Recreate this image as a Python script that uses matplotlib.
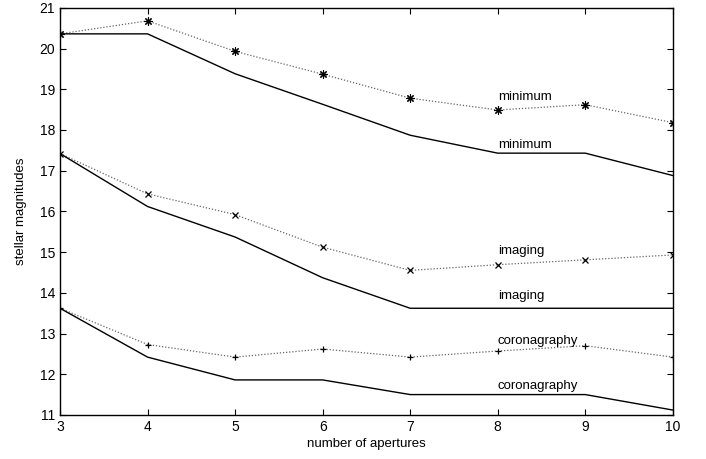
import matplotlib
matplotlib.use("Agg")
import matplotlib.pyplot as plt

plt.rcParams['font.family'] = ['Liberation Sans', 'DejaVu Sans']

apertures = [3, 4, 5, 6, 7, 8, 9, 10]

# dotted curves (with markers)
min_dot = [20.36, 20.68, 19.93, 19.37, 18.78, 18.49, 18.62, 18.18]
img_dot = [17.42, 16.43, 15.92, 15.12, 14.55, 14.69, 14.81, 14.93]
cor_dot = [13.62, 12.73, 12.42, 12.62, 12.42, 12.57, 12.70, 12.42]

# solid curves
min_sol = [20.36, 20.36, 19.38, 18.63, 17.87, 17.43, 17.43, 16.88]
img_sol = [17.42, 16.12, 15.37, 14.37, 13.62, 13.62, 13.62, 13.62]
cor_sol = [13.62, 12.42, 11.86, 11.86, 11.50, 11.50, 11.50, 11.12]

# curve labels: (text, x, y)
labels = [("minimum", 8.0, 18.82), ("minimum", 8.0, 17.62),
          ("imaging", 8.0, 15.02), ("imaging", 8.0, 13.92),
          ("coronagraphy", 8.0, 12.82), ("coronagraphy", 8.0, 11.72)]

fig = plt.figure(figsize=(7.06, 4.59), dpi=100)
ax = fig.add_axes([0.085, 0.096, 0.868, 0.887])

dot_style = dict(color='#666666', linestyle=(0, (1, 1.5)), linewidth=0.9,
                 markeredgecolor='black', markerfacecolor='black')
ax.plot(apertures, min_dot, marker=(8, 2, 0), markersize=6, markeredgewidth=0.8, **dot_style)
ax.plot(apertures, img_dot, marker='x', markersize=4.5, markeredgewidth=0.9, **dot_style)
ax.plot(apertures, cor_dot, marker='+', markersize=4.5, markeredgewidth=0.9, **dot_style)

for ys in (min_sol, img_sol, cor_sol):
    ax.plot(apertures, ys, color='black', linewidth=1.0)

for txt, x, y in labels:
    ax.text(x, y, txt, fontsize=9.5, ha='left', va='center')

ax.set_xlim(3, 10)
ax.set_ylim(11, 21)
ax.set_xticks(apertures)
ax.set_yticks(range(11, 22))
ax.tick_params(direction='in', top=True, right=True, labelsize=10, length=4.5)
ax.set_xlabel('number of apertures', fontsize=9.5, labelpad=3)
ax.set_ylabel('stellar magnitudes', fontsize=9.5, labelpad=9)
for s in ax.spines.values():
    s.set_linewidth(1.0)

fig.savefig('out.png', dpi=100)
